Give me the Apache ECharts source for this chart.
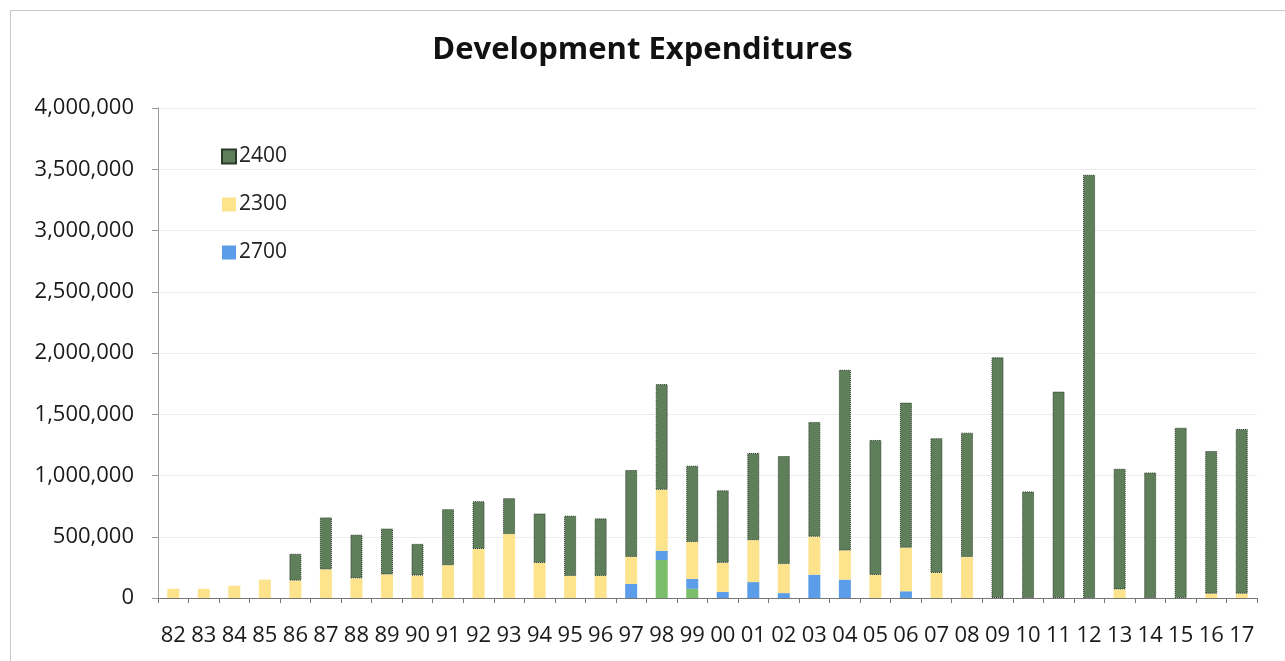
<!DOCTYPE html>
<html>
<head>
<meta charset="utf-8">
<script src="https://cdn.jsdelivr.net/npm/echarts@6/dist/echarts.min.js"></script>
<style>
html,body{margin:0;padding:0;background:#fff;}
#chart{width:1285px;height:661px;}
</style>
</head>
<body>
<div id="chart"></div>
<script>
const categories = ['82','83','84','85','86','87','88','89','90','91','92','93','94','95','96','97','98','99','00','01','02','03','04','05','06','07','08','09','10','11','12','13','14','15','16','17'];
const yTicks = [0, 500000, 1000000, 1500000, 2000000, 2500000, 3000000, 3500000, 4000000];
// bottom unlabeled segment (light green)
const sOther = [0,0,0,0,0,0,0,0,0,0,0,0,0,0,0,0,310000,75000,0,0,0,0,0,0,0,0,0,0,0,0,0,0,0,0,0,0];
const s2700 = [0,0,0,0,0,0,0,0,0,0,0,0,0,0,0,115000,75000,80000,50000,130000,40000,190000,150000,0,55000,0,0,0,0,0,0,0,0,0,0,0];
const s2300 = [75000,75000,100000,150000,142000,233000,160000,192000,183000,267000,400000,522000,286000,180000,180000,220000,498000,302000,237000,342000,237000,310000,237000,188000,355000,205000,335000,0,0,0,0,70000,0,0,35000,35000];
const s2400 = [0,0,0,0,219000,425000,357000,375000,259000,458000,390000,293000,404000,492000,470000,710000,863000,623000,592000,712000,882000,937000,1476000,1102000,1185000,1100000,1015000,1965000,870000,1685000,3455000,985000,1025000,1390000,1165000,1345000];

const nz = arr => arr.map(v => v === 0 ? null : v);

const chart = echarts.init(document.getElementById('chart'));
const FONT = 'Open Sans';
chart.setOption({
  animation: false,
  backgroundColor: '#fff',
  title: {
    text: 'Development Expenditures',
    left: 'center',
    top: 30,
    textStyle: {fontFamily: FONT, fontWeight: 'bold', fontSize: 31, color: '#111'}
  },
  legend: {
    data: ['2400','2300','2700'],
    orient: 'vertical',
    left: 216,
    top: 141,
    itemGap: 27,
    itemWidth: 14,
    itemHeight: 14,
    icon: 'rect',
    textStyle: {fontFamily: FONT, fontSize: 21, color: '#222', padding: [0,0,0,-2]}
  },
  grid: {left: 158, right: 28, top: 108, bottom: 63, containLabel: false},
  xAxis: {
    type: 'category',
    data: categories,
    axisLine: {lineStyle: {color: '#777', width: 1}},
    axisTick: {show: true, alignWithLabel: false, length: 5, lineStyle: {color: '#777'}},
    axisLabel: {fontFamily: FONT, fontSize: 22, color: '#1a1a1a', margin: 27, interval: 0}
  },
  yAxis: {
    type: 'value',
    min: 0,
    max: 4000000,
    interval: 500000,
    axisLine: {show: true, lineStyle: {color: '#999'}},
    axisTick: {show: true, length: 6, lineStyle: {color: '#999'}},
    splitLine: {lineStyle: {color: '#ececec'}},
    axisLabel: {
      fontFamily: FONT, fontSize: 22, color: '#1a1a1a', margin: 24,
      formatter: v => yTicks.includes(v) ? v.toLocaleString('en-US') : ''
    }
  },
  series: [
    {name: 'Other', type: 'bar', stack: 'a', barWidth: 12, data: nz(sOther), itemStyle: {color: '#7cbd6c'}},
    {name: '2700', type: 'bar', stack: 'a', barWidth: 12, data: nz(s2700), itemStyle: {color: '#5b9de8'}},
    {name: '2300', type: 'bar', stack: 'a', barWidth: 12, data: nz(s2300), itemStyle: {color: '#fce38c'}},
    {name: '2400', type: 'bar', stack: 'a', barWidth: 12, data: nz(s2400), itemStyle: {color: '#5f7f5a', borderColor: '#2b3a29', borderWidth: 1, borderType: 'dotted'}}
  ],
  graphic: [{
    type: 'rect', left: 8, top: 8, silent: true,
    shape: {width: 1275, height: 652},
    style: {fill: 'none', stroke: '#c8c8c8', lineWidth: 1}
  }]
});
</script>
</body>
</html>
